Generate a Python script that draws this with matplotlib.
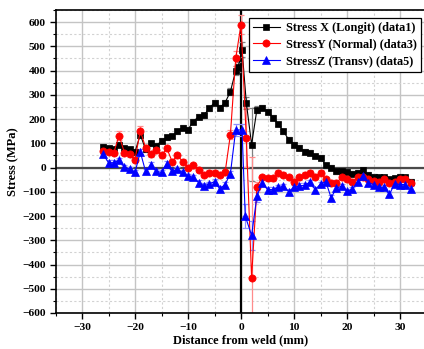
import matplotlib
matplotlib.use("Agg")
import matplotlib.pyplot as plt
from matplotlib.ticker import MultipleLocator

# Distance from weld centreline (mm) and measured residual stresses (MPa)
x_long = [-26, -25, -24, -23, -22, -21, -20, -19, -18, -17, -16, -15, -14, -13,
          -12, -11, -10, -9, -8, -7, -6, -5, -4, -3, -2, -1, -0.5, 0.2, 1, 2,
          3, 4, 5, 6, 7, 8, 9, 10, 11, 12, 13, 14, 15, 16, 17, 18, 19, 20, 21,
          22, 23, 24, 25, 26, 27, 28, 29, 30, 31, 32]
stress_x = [85, 80, 75, 95, 80, 75, 65, 135, 75, 100, 90, 110, 125, 130,
            150, 165, 157, 190, 210, 215, 245, 268, 247, 268, 313, 400, 415, 487, 268, 95,
            239, 247, 231, 205, 180, 150, 115, 95, 82, 66, 62, 48, 41, 10, 0, -16, -16, -18, -25,
            -21, -12, -29, -37, -41, -41, -49, -45, -37, -41, -58]
err_x = [12, 10, 10, 12, 10, 10, 10, 15, 10, 10, 10, 10, 10, 10,
         10, 10, 10, 10, 10, 10, 10, 10, 10, 10, 15, 20, 20, 30, 25, 150,
         15, 10, 10, 10, 10, 10, 10, 10, 10, 10, 10, 10, 10, 10, 10, 10, 10, 10, 10,
         10, 10, 10, 10, 10, 10, 10, 10, 10, 10, 10]

x_norm = [-26, -25, -24, -23, -22, -21, -20, -19, -18, -17, -16, -15, -14, -13,
          -12, -11, -10, -9, -8, -7, -6, -5, -4, -3, -2, -1, 0, 1, 2,
          3, 4, 5, 6, 7, 8, 9, 10, 11, 12, 13, 14, 15, 16, 17, 18, 19, 20, 21,
          22, 23, 24, 25, 26, 27, 28, 29, 30, 31, 32]
stress_y = [70, 66, 62, 132, 62, 54, 33, 152, 82, 54, 74, 50, 80, 25,
            50, 25, 0, 10, -10, -29, -21, -21, -30, -20, 136, 450, 590, 124, -455,
            -80, -40, -45, -45, -21, -29, -41, -58, -41, -29, -21, -37, -21, -49, -62, -62, -41, -49, -58,
            -41, -37, -49, -55, -58, -49, -62, -58, -49, -49, -62]
err_y = [12, 10, 10, 18, 10, 10, 10, 18, 10, 10, 10, 10, 10, 10,
         10, 10, 10, 10, 10, 10, 10, 10, 10, 10, 20, 30, 40, 120, 500,
         20, 10, 10, 10, 10, 10, 10, 10, 10, 10, 10, 10, 10, 10, 10, 10, 10, 10, 10,
         10, 10, 10, 10, 10, 10, 10, 10, 10, 10, 10]

x_trans = [-26, -25, -24, -23, -22, -21, -20, -19, -18, -17, -16, -15, -14, -13,
           -12, -11, -10, -9, -8, -7, -6, -5, -4, -3, -2, -1, 0.2, 0.8, 2,
           3, 4, 5, 6, 7, 8, 9, 10, 11, 12, 13, 14, 15, 16, 17, 18, 19, 20, 21,
           22, 23, 24, 25, 26, 27, 28, 29, 30, 31, 32]
stress_z = [55, 20, 20, 30, 2, -8, -20, 64, -16, 12, -16, -20, 16, -16,
            -8, -20, -35, -40, -62, -75, -68, -58, -88, -70, -25, 155, 155, -200, -280,
            -118, -62, -91, -91, -82, -78, -99, -82, -75, -74, -60, -91, -68, -58, -124, -86, -76, -97, -90,
            -58, -35, -62, -70, -80, -82, -111, -66, -70, -70, -88]
err_z = [12, 10, 10, 10, 10, 10, 10, 12, 10, 10, 10, 10, 10, 10,
         10, 10, 10, 10, 10, 10, 10, 10, 10, 10, 12, 25, 25, 50, 60,
         25, 10, 10, 10, 10, 10, 10, 10, 10, 10, 10, 10, 10, 10, 10, 10, 10, 10, 10,
         10, 10, 10, 10, 10, 10, 10, 10, 10, 10, 10]

series = [
    (x_long, stress_x, err_x, "Stress X (Longit) (data1)", "black", "s", 4.5),
    (x_norm, stress_y, err_y, "StressY (Normal) (data3)", "red", "o", 5.2),
    (x_trans, stress_z, err_z, "StressZ (Transv) (data5)", "blue", "^", 5.4),
]

plt.rcParams["font.family"] = ["Liberation Serif", "DejaVu Serif"]
plt.rcParams["font.weight"] = "bold"

fig = plt.figure(figsize=(4.24, 3.49), dpi=100)
ax = fig.add_axes([55.5 / 424, 36 / 349, 371 / 424, 303 / 349])

ax.set_xlim(-35, 35)
ax.set_ylim(-600, 650)

# grid: solid major, dotted minor
ax.xaxis.set_major_locator(MultipleLocator(10))
ax.xaxis.set_minor_locator(MultipleLocator(5))
ax.yaxis.set_major_locator(MultipleLocator(100))
ax.yaxis.set_minor_locator(MultipleLocator(50))
ax.grid(which="major", color="#c4c4c4", linewidth=1.0, linestyle="-", zorder=0)
ax.grid(which="minor", color="#d2d2d2", linewidth=0.8, linestyle=(0, (2, 2)), zorder=0)
ax.set_axisbelow(True)

# zero reference lines
ax.axhline(0, color="#4a4a4a", linewidth=1.6, zorder=1)
ax.axvline(0, color="black", linewidth=1.6, zorder=1)

ecol = {"black": "#808080", "red": "#ff8c8c", "blue": "#8c8cff"}
for xs, ys, es, label, color, marker, ms in series:
    ax.errorbar(xs, ys, yerr=es, fmt="none", ecolor=ecol[color], elinewidth=0.9,
                capsize=2.0, capthick=0.9, zorder=2)
    ax.plot(xs, ys, color=color, linewidth=0.8, marker=marker, markersize=ms,
            markeredgewidth=0.5, label=label, zorder=3)

for side in ("left", "bottom", "top"):
    ax.spines[side].set_linewidth(1.2)
ax.spines["right"].set_visible(False)

ax.tick_params(which="major", direction="out", length=4, width=1.0,
               labelsize=8.2, top=False, right=False, pad=3)
ax.tick_params(which="minor", direction="out", length=2.5, width=0.8,
               top=False, right=False)
for lbl in ax.get_xticklabels() + ax.get_yticklabels():
    lbl.set_fontweight("bold")

ax.set_xlabel("Distance from weld (mm)", fontsize=9, fontweight="bold", labelpad=2)
ax.set_ylabel("Stress (MPa)", fontsize=9, fontweight="bold", labelpad=2)

leg = ax.legend(loc="upper right", bbox_to_anchor=(0.992, 0.983),
                frameon=True, fancybox=False, edgecolor="black", framealpha=1,
                borderpad=0.35, labelspacing=0.4, handlelength=2.2, handletextpad=0.5,
                borderaxespad=0.2, prop={"weight": "bold", "size": 8.8})
leg.get_frame().set_linewidth(0.9)

fig.savefig("out.png", dpi=100)
